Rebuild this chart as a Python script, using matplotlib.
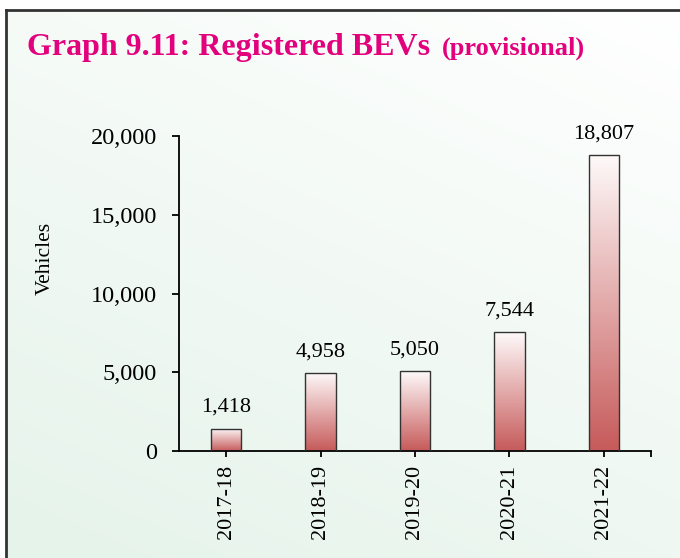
import matplotlib
matplotlib.use('Agg')
import matplotlib.pyplot as plt
import numpy as np
from matplotlib.colors import LinearSegmentedColormap
from matplotlib.patches import Rectangle

years = ['2017-18', '2018-19', '2019-20', '2020-21', '2021-22']
vehicles = [1418, 4958, 5050, 7544, 18807]
y_ticks = [0, 5000, 10000, 15000, 20000]

plt.rcParams['font.family'] = ['Liberation Serif', 'DejaVu Serif']

fig = plt.figure(figsize=(6.8, 5.58), dpi=100)
W, H = 680, 558

# background: white strip outside the frame, mint gradient inside
bg = fig.add_axes([0, 0, 1, 1], zorder=0)
bg.set_axis_off()
gx, gy = np.meshgrid(np.linspace(0, 1, 200), np.linspace(0, 1, 200))
t = np.clip(0.65 * gy + 0.35 * (1 - gx), 0, 1)  # 0 at top-right, 1 at bottom-left
bg_cmap = LinearSegmentedColormap.from_list('bg', ['#ffffff', '#e5f3ea'])
bg.imshow(t, cmap=bg_cmap, extent=[0, 1, 0, 1], origin='upper', aspect='auto',
          transform=fig.transFigure)
bg.set_xlim(0, 1)
bg.set_ylim(0, 1)
bg.add_patch(Rectangle((0, 1 - 10 / H), 1, 10 / H, facecolor='white', edgecolor='none',
                       transform=fig.transFigure))
bg.add_patch(Rectangle((0, 0), 6 / W, 1, facecolor='white', edgecolor='none',
                       transform=fig.transFigure))
# frame lines (left and top, the rest runs off the picture)
bg.plot([6 / W, 6 / W], [0, 1 - 10 / H], color='#333333', lw=2, transform=fig.transFigure)
bg.plot([6 / W, 1], [1 - 10 / H, 1 - 10 / H], color='#333333', lw=2, transform=fig.transFigure)

# title
magenta = '#e2007d'
fig.text(27 / W, 1 - 55 / H, 'Graph 9.11: Registered BEVs', color=magenta,
         fontsize=23, fontweight='bold', va='baseline', ha='left')
fig.text(442 / W, 1 - 55 / H, '(provisional)', color=magenta,
         fontsize=19, fontweight='bold', va='baseline', ha='left')

ax = fig.add_axes([179 / W, 1 - 451 / H, (651 - 179) / W, (451 - 136) / H], zorder=1)
ax.patch.set_alpha(0)

x = np.arange(len(years))
bars = ax.bar(x, vehicles, width=0.32, facecolor='none', edgecolor='#333333',
              linewidth=1.0, zorder=3)

bar_cmap = LinearSegmentedColormap.from_list('bar', ['#fefafa', '#e3aaaa', '#c65a5a'])
grad = np.linspace(0, 1, 256).reshape(-1, 1)
for b in bars:
    bx, by = b.get_x(), b.get_y()
    im = ax.imshow(grad, cmap=bar_cmap, aspect='auto', origin='upper',
                   extent=[bx, bx + b.get_width(), by, by + b.get_height()], zorder=2)
    im.set_clip_path(b)

for xi, v in zip(x, vehicles):
    ax.annotate(f'{v:,}', (xi, v), xytext=(0, 12), textcoords='offset points',
                ha='center', va='baseline', fontsize=16)

ax.set_xlim(-0.5, 4.5)
ax.set_ylim(0, 20000)
ax.set_yticks(y_ticks)
ax.set_yticklabels([f'{v:,}' for v in y_ticks], fontsize=17.5)
ax.set_xticks(list(x) + [4.5])
ax.set_xticklabels(years + [''], rotation=90, fontsize=16)

ax.spines['top'].set_visible(False)
ax.spines['right'].set_visible(False)
for s in ['left', 'bottom']:
    ax.spines[s].set_linewidth(1.3)
ax.tick_params(axis='y', direction='out', length=5, width=1.3, pad=11)
ax.tick_params(axis='x', direction='out', length=4, width=1.3, pad=6)

fig.text(45 / W, 1 - 258 / H, 'Vehicles', rotation=90, fontsize=15.5,
         ha='center', va='center')

fig.savefig('out.png', dpi=100)
